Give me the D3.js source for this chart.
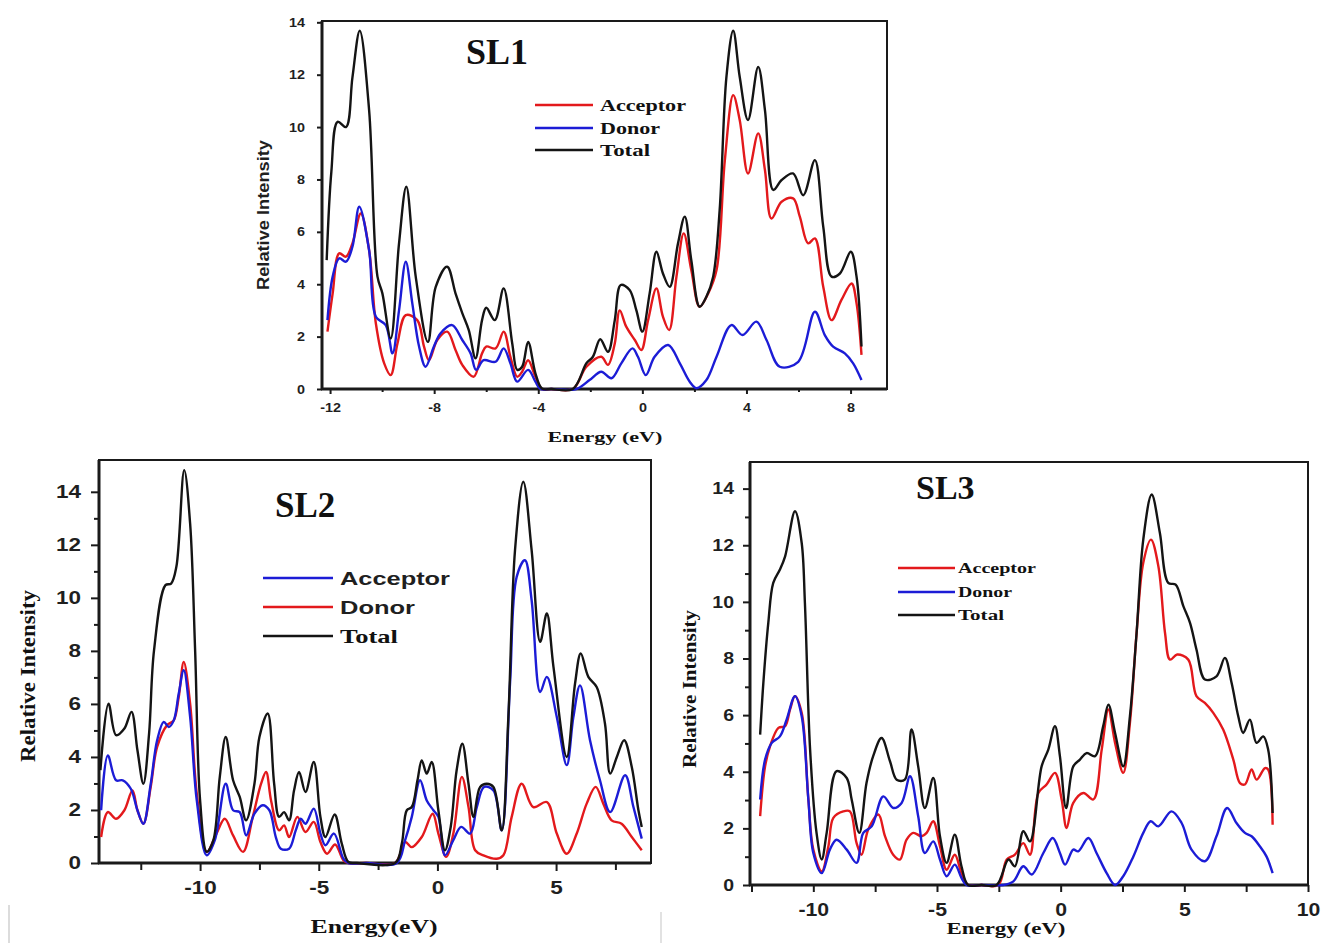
<!DOCTYPE html>
<html>
<head>
<meta charset="utf-8">
<title>PDOS SL1 SL2 SL3</title>
<style>
    body { margin: 0; background: #fff; }
    svg { display: block; }
    .domain { display: none; }
    .tick line { stroke: #1a1a1a; stroke-width: 2; }
    .tick text { font-family: 'Liberation Sans', Arial, sans-serif; font-weight: bold; fill: #1f1f1f; }
    .serif { font-family: 'Liberation Serif', 'Times New Roman', serif; font-weight: bold; fill: #111; }
    .sans { font-family: 'Liberation Sans', Arial, sans-serif; font-weight: bold; fill: #1f1f1f; }
</style>
</head>
<body>
<svg width="1322" height="943"></svg>
<script src="https://d3js.org/d3.v7.min.js"></script>
<script>

// ---- data: [energy (eV), relative intensity] ----

let sl1Acceptor = [[-12.1,2.19],[-11.9,3.65],[-11.65,5.18],[-11.39,5.05],[-11.14,5.56],[-10.82,6.7],[-10.5,5.3],[-10.24,2.5],[-9.92,0.98],[-9.67,0.53],[-9.41,1.74],[-9.09,2.82],[-8.65,2.63],[-8.39,1.62],[-8.2,1.1],[-7.88,1.87],[-7.5,2.19],[-7.18,1.49],[-6.92,0.92],[-6.48,0.47],[-6.16,1.36],[-6.0,1.62],[-5.64,1.55],[-5.33,2.19],[-5.07,1.23],[-4.81,0.47],[-4.62,0.66],[-4.39,1.1],[-4.11,0.47],[-3.86,0],[-3.5,0],[-2.67,0],[-2.15,0.85],[-1.58,1.23],[-1.32,0.92],[-1.06,1.74],[-0.87,3.0],[-0.62,2.38],[-0.29,1.87],[-0.04,1.49],[0.22,2.63],[0.54,3.84],[0.79,2.76],[1.03,2.25],[1.31,4.29],[1.59,5.94],[1.88,4.54],[2.2,3.14],[2.53,3.65],[2.85,4.54],[3.17,8.74],[3.49,11.22],[3.74,10.27],[4.06,8.23],[4.45,9.76],[4.71,8.36],[4.96,6.51],[5.35,7.15],[5.79,7.28],[6.05,6.58],[6.37,5.56],[6.63,5.75],[6.95,3.9],[7.27,2.63],[7.65,3.4],[8.04,4.03],[8.23,3.27],[8.42,1.3]];

let sl1Donor = [[-12.1,2.63],[-11.9,4.29],[-11.65,4.99],[-11.39,4.86],[-11.14,5.43],[-10.88,6.96],[-10.5,5.3],[-10.24,2.76],[-9.86,2.44],[-9.6,1.36],[-9.35,3.0],[-9.09,4.86],[-8.84,3.27],[-8.58,1.62],[-8.33,0.85],[-8.01,1.62],[-7.76,2.12],[-7.31,2.44],[-6.92,1.87],[-6.6,1.36],[-6.39,0.73],[-6.1,1.1],[-5.64,1.04],[-5.33,1.55],[-5.07,0.98],[-4.81,0.28],[-4.39,0.73],[-4.11,0.28],[-3.92,0],[-3.5,0],[-2.54,0],[-2.03,0.34],[-1.58,0.66],[-1.19,0.41],[-0.81,0.98],[-0.38,1.55],[-0.17,1.23],[0.13,0.53],[0.47,1.23],[0.99,1.68],[1.44,0.98],[1.82,0.28],[2.08,0.03],[2.46,0.34],[2.85,1.23],[3.42,2.44],[3.85,2.06],[4.38,2.57],[4.77,1.87],[5.28,0.85],[5.99,1.04],[6.63,2.95],[7.01,2.06],[7.33,1.62],[7.78,1.36],[8.1,0.98],[8.42,0.34]];

let sl1Total = [[-12.13,4.92],[-11.95,8.3],[-11.71,10.2],[-11.39,10.0],[-11.14,11.9],[-10.86,13.68],[-10.5,10.65],[-10.18,4.3],[-9.99,3.65],[-9.67,1.93],[-9.35,5.56],[-9.07,7.72],[-8.71,4.3],[-8.24,1.8],[-7.94,3.9],[-7.5,4.67],[-7.18,3.65],[-6.92,2.9],[-6.67,2.25],[-6.41,1.17],[-6.16,2.63],[-6.0,3.1],[-5.67,2.63],[-5.33,3.84],[-5.0,1.74],[-4.81,0.73],[-4.62,0.85],[-4.39,1.8],[-4.11,0.6],[-3.86,0.02],[-3.5,0],[-2.67,0],[-2.15,0.98],[-1.9,1.23],[-1.62,1.9],[-1.32,1.42],[-1.06,2.63],[-0.83,3.97],[-0.49,3.78],[-0.23,3.0],[0.0,2.19],[0.28,3.65],[0.54,5.24],[0.79,4.41],[1.05,3.9],[1.37,5.56],[1.63,6.58],[1.88,4.92],[2.2,3.14],[2.46,3.52],[2.72,4.29],[2.97,6.83],[3.23,11.92],[3.49,13.68],[3.74,11.92],[4.06,10.27],[4.45,12.3],[4.71,10.65],[5.03,7.6],[5.35,7.98],[5.79,8.23],[6.18,7.4],[6.63,8.74],[6.95,6.2],[7.27,4.29],[7.59,4.41],[8.01,5.24],[8.23,4.29],[8.42,1.62]];

let sl2Acceptor = [[-14.17,1.99],[-13.89,4.06],[-13.54,3.12],[-13.26,3.12],[-12.92,2.8],[-12.64,1.99],[-12.39,1.48],[-12.08,2.99],[-11.81,4.63],[-11.53,5.32],[-11.32,5.13],[-11.11,5.38],[-10.9,6.39],[-10.69,7.27],[-10.42,5.51],[-10.14,2.36],[-9.72,0.29],[-9.38,0.86],[-8.92,2.99],[-8.61,1.99],[-8.33,1.92],[-8.06,1.04],[-7.71,1.86],[-7.36,2.18],[-7.08,1.99],[-6.81,0.98],[-6.6,0.54],[-6.25,0.54],[-5.97,1.23],[-5.76,1.67],[-5.56,1.48],[-5.21,2.05],[-4.93,1.11],[-4.72,0.67],[-4.36,1.11],[-3.96,0.16],[-3.75,0],[-3.0,0],[-1.71,0],[-1.36,0.86],[-1.08,1.74],[-0.73,3.12],[-0.45,2.36],[-0.17,1.99],[0.04,1.74],[0.32,0.29],[0.67,0.86],[1.0,1.36],[1.38,1.11],[1.66,2.11],[1.97,2.87],[2.36,2.74],[2.71,1.23],[3.06,6.77],[3.34,10.79],[3.69,11.42],[3.97,9.91],[4.33,6.45],[4.61,7.02],[5.03,5.51],[5.45,3.69],[5.73,5.51],[6.01,6.7],[6.43,4.63],[6.85,3.12],[7.28,1.92],[7.91,3.31],[8.26,2.11],[8.61,0.92]];

let sl2Donor = [[-14.17,0.98],[-13.89,1.92],[-13.54,1.67],[-13.19,1.99],[-12.85,2.74],[-12.64,1.99],[-12.39,1.48],[-12.08,2.87],[-11.81,4.38],[-11.39,5.2],[-11.11,5.38],[-10.9,6.26],[-10.69,7.58],[-10.42,6.01],[-10.14,2.62],[-9.72,0.42],[-9.31,1.11],[-8.96,1.67],[-8.61,1.04],[-8.19,0.42],[-7.78,1.74],[-7.43,2.99],[-7.22,3.43],[-7.01,2.36],[-6.67,1.23],[-6.46,1.42],[-6.25,0.98],[-5.9,1.74],[-5.56,1.17],[-5.21,1.55],[-4.93,0.79],[-4.65,0.35],[-4.31,0.7],[-3.96,0.1],[-3.75,0],[-3.0,0],[-1.78,0],[-1.36,0.79],[-1.08,0.6],[-0.66,0.98],[-0.2,1.86],[0.04,1.11],[0.37,0.23],[0.67,1.11],[1.03,3.25],[1.31,2.11],[1.59,0.48],[1.94,0.29],[2.5,0.16],[2.78,0.29],[3.13,1.74],[3.55,2.99],[4.04,2.11],[4.61,2.3],[5.03,1.11],[5.45,0.35],[5.87,1.11],[6.29,2.24],[6.67,2.87],[6.99,2.24],[7.34,1.61],[7.76,1.48],[8.19,0.98],[8.61,0.48]];

let sl2Total = [[-14.2,3.5],[-13.86,6.01],[-13.54,4.82],[-13.19,5.07],[-12.89,5.7],[-12.64,4.25],[-12.39,2.99],[-12.15,4.88],[-11.94,8.03],[-11.46,10.48],[-11.22,10.54],[-11.0,11.17],[-10.67,14.82],[-10.42,12.8],[-10.21,8.03],[-10.0,2.36],[-9.72,0.42],[-9.44,0.86],[-9.17,3.25],[-8.92,4.75],[-8.61,3.12],[-8.33,2.49],[-8.06,1.61],[-7.71,2.99],[-7.5,4.75],[-7.15,5.64],[-6.88,2.99],[-6.67,1.74],[-6.46,1.92],[-6.25,1.61],[-6.04,2.74],[-5.83,3.43],[-5.56,2.68],[-5.21,3.81],[-4.93,1.74],[-4.72,0.98],[-4.33,1.83],[-4.03,0.73],[-3.75,0.04],[-3.4,0],[-1.78,0],[-1.5,0.73],[-1.29,1.99],[-1.08,2.11],[-0.84,3.12],[-0.66,3.87],[-0.45,3.37],[-0.24,3.81],[0.04,1.99],[0.32,0.48],[0.56,1.36],[0.81,3.5],[1.05,4.5],[1.31,2.99],[1.52,1.74],[1.8,2.87],[2.08,2.99],[2.36,2.87],[2.71,1.23],[2.99,5.51],[3.27,11.8],[3.62,14.38],[3.97,11.8],[4.33,8.34],[4.61,9.41],[4.89,7.4],[5.45,4.0],[5.8,6.77],[6.04,7.9],[6.36,7.02],[6.71,6.64],[7.06,5.26],[7.28,3.37],[7.56,4.0],[7.87,4.63],[8.19,3.62],[8.47,1.99],[8.61,1.36]];

let sl3Acceptor = [[-12.15,2.43],[-11.95,4.19],[-11.75,4.9],[-11.41,5.55],[-11.14,5.61],[-10.94,6.2],[-10.74,6.67],[-10.47,6.08],[-10.2,3.02],[-10.0,1.25],[-9.66,0.48],[-9.39,1.37],[-9.19,2.37],[-8.79,2.6],[-8.52,2.6],[-8.25,1.48],[-8.05,1.07],[-7.78,1.96],[-7.37,2.49],[-7.1,1.72],[-6.77,1.07],[-6.5,0.9],[-6.23,1.6],[-5.96,1.84],[-5.62,1.72],[-5.42,1.84],[-5.15,2.25],[-4.88,1.37],[-4.61,0.54],[-4.28,1.07],[-4.01,0.42],[-3.74,0],[-3.2,0],[-2.52,0],[-2.18,0.9],[-1.85,1.07],[-1.51,1.48],[-1.24,1.07],[-0.9,3.25],[-0.57,3.55],[-0.23,3.96],[0.04,3.02],[0.24,2.01],[0.51,2.9],[0.92,3.25],[1.32,3.02],[1.66,4.78],[1.93,6.2],[2.2,5.02],[2.53,3.96],[2.8,5.72],[3.07,8.9],[3.34,11.38],[3.65,12.2],[3.95,11.26],[4.22,8.9],[4.42,7.96],[4.71,8.14],[5.16,7.96],[5.49,6.67],[5.83,6.43],[6.17,6.08],[6.57,5.49],[6.98,4.43],[7.25,3.6],[7.45,3.55],[7.72,4.08],[7.92,3.72],[8.26,4.13],[8.39,4.08],[8.57,2.13]];

let sl3Donor = [[-12.15,3.02],[-11.95,4.43],[-11.68,5.02],[-11.35,5.25],[-11.08,5.84],[-10.74,6.67],[-10.47,5.96],[-10.2,3.02],[-10.0,1.13],[-9.66,0.42],[-9.33,1.25],[-9.06,1.6],[-8.65,1.25],[-8.25,0.78],[-7.98,1.84],[-7.64,2.07],[-7.17,3.13],[-6.77,2.72],[-6.43,2.9],[-6.09,3.84],[-5.76,2.43],[-5.49,1.13],[-5.15,1.54],[-4.88,0.9],[-4.61,0.31],[-4.28,0.72],[-4.01,0.25],[-3.81,0],[-3.2,0],[-2.32,0],[-1.91,0.13],[-1.51,0.66],[-1.17,0.37],[-0.7,1.13],[-0.32,1.66],[-0.03,1.13],[0.18,0.72],[0.51,1.25],[0.71,1.19],[1.12,1.66],[1.45,1.13],[1.86,0.42],[2.2,0],[2.53,0.31],[2.94,1.01],[3.34,1.84],[3.64,2.25],[3.95,2.07],[4.48,2.6],[4.89,2.19],[5.29,1.25],[5.83,0.84],[6.3,1.72],[6.73,2.72],[7.11,2.19],[7.45,1.84],[7.72,1.72],[8.05,1.37],[8.32,1.01],[8.57,0.42]];

let sl3Total = [[-12.15,5.31],[-12.02,7.14],[-11.82,9.26],[-11.62,10.67],[-11.35,11.14],[-11.14,11.61],[-10.74,13.2],[-10.47,12.08],[-10.34,9.96],[-10.13,4.78],[-9.87,1.84],[-9.66,0.9],[-9.46,1.84],[-9.06,4.02],[-8.65,3.78],[-8.45,3.02],[-8.14,1.84],[-7.85,3.6],[-7.58,4.55],[-7.24,5.19],[-6.9,4.37],[-6.63,3.72],[-6.3,3.72],[-6.03,5.49],[-5.76,4.19],[-5.49,2.72],[-5.15,3.78],[-4.88,1.72],[-4.61,0.78],[-4.28,1.78],[-4.01,0.66],[-3.74,0],[-3.2,0],[-2.59,0],[-2.11,0.9],[-1.85,0.66],[-1.51,1.9],[-1.24,1.54],[-0.77,4.19],[-0.5,4.78],[-0.23,5.61],[-0.03,4.55],[0.22,2.72],[0.51,4.19],[0.78,4.43],[1.05,4.66],[1.39,4.55],[1.72,5.61],[1.93,6.37],[2.2,5.37],[2.53,4.19],[2.8,5.96],[3.07,8.9],[3.34,12.2],[3.68,13.79],[4.01,12.44],[4.35,10.67],[4.65,10.61],[4.96,9.85],[5.23,9.26],[5.49,8.32],[5.83,7.26],[6.3,7.37],[6.64,8.02],[6.91,7.14],[7.18,5.96],[7.38,5.37],[7.65,5.84],[7.92,5.02],[8.19,5.25],[8.39,4.78],[8.57,2.54]];

// ---- tick values ----
let yMajorTicks = [0, 2, 4, 6, 8, 10, 12, 14];
let yMinorTicks = [1, 3, 5, 7, 9, 11, 13];
let sl1XMajor = [-12, -8, -4, 0, 4, 8];
let sl1XMinor = [-10, -6, -2, 2, 6];
let sl2XMajor = [-10, -5, 0, 5];
let sl2XMinor = [-12.5, -7.5, -2.5, 2.5, 7.5];
let sl3XMajor = [-10, -5, 0, 5, 10];
let sl3XMinor = [-12.5, -7.5, -2.5, 2.5, 7.5];

let red = '#e3191c';
let blue = '#1c1cd6';
let black = '#141414';

let svg = d3.select('svg');

function stretchText(sel, k) {
    sel.each(function () {
        let w = this.getComputedTextLength();
        d3.select(this).attr('textLength', w * k).attr('lengthAdjust', 'spacingAndGlyphs');
    });
}

let panels = [
    {
        name: 'SL1', left: 322, right: 887, top: 21, bottom: 389,
        xDom: [-12.31, 9.4], yDom: [0, 14.05],
        xMajor: sl1XMajor, xMinor: sl1XMinor,
        xFont: 12.5, yFont: 12.5, tickStretch: 1.15, xPad: 9, yPad: 12, majorLen: 5, minorLen: 3,
        series: [[sl1Acceptor, red], [sl1Donor, blue], [sl1Total, black]],
        title: { x: 466, y: 64, size: 36 },
        legend: { x1: 535, x2: 593, tx: 600, ys: [105, 128, 150], size: 16, cls: ['serif', 'serif', 'serif'],
                  names: ['Acceptor', 'Donor', 'Total'], colors: [red, blue, black], widths: [86, 60, 50] },
        xLabel: { text: 'Energy (eV)', x: 605, y: 442, size: 15, w: 115 },
        yLabel: { x: 269, y: 215, size: 16, w: 150, cls: 'sans' }
    },
    {
        name: 'SL2', left: 99, right: 651, top: 460, bottom: 863,
        xDom: [-14.26, 9.0], yDom: [0, 15.2],
        xMajor: sl2XMajor, xMinor: sl2XMinor,
        xFont: 18, yFont: 18, tickStretch: 1.25, xPad: 10, yPad: 10, majorLen: 8, minorLen: 7,
        series: [[sl2Donor, red], [sl2Acceptor, blue], [sl2Total, black]],
        title: { x: 275, y: 517, size: 35 },
        legend: { x1: 263, x2: 333, tx: 340, ys: [578, 607, 636], size: 19, cls: ['sans', 'sans', 'serif'],
                  names: ['Acceptor', 'Donor', 'Total'], colors: [blue, red, black], widths: [110, 75, 58] },
        xLabel: { text: 'Energy(eV)', x: 374, y: 933, size: 19, w: 127 },
        yLabel: { x: 35, y: 676, size: 20, w: 172, cls: 'serif' }
    },
    {
        name: 'SL3', left: 750, right: 1308, top: 462, bottom: 885,
        xDom: [-12.56, 10], yDom: [0, 14.94],
        xMajor: sl3XMajor, xMinor: sl3XMinor,
        xFont: 18, yFont: 16.5, tickStretch: 1.18, xPad: 11, yPad: 9, majorLen: 7, minorLen: 7,
        series: [[sl3Acceptor, red], [sl3Donor, blue], [sl3Total, black]],
        title: { x: 916, y: 499, size: 34 },
        legend: { x1: 898, x2: 955, tx: 958, ys: [568, 592, 615], size: 15, cls: ['serif', 'serif', 'serif'],
                  names: ['Acceptor', 'Donor', 'Total'], colors: [red, blue, black], widths: [78, 54, 46] },
        xLabel: { text: 'Energy (eV)', x: 1006, y: 934, size: 17, w: 119 },
        yLabel: { x: 696, y: 689, size: 18, w: 158, cls: 'serif' }
    }
];

panels.forEach(p => {
    let g = svg.append('g').attr('class', 'panel ' + p.name);

    let x = d3.scaleLinear().domain(p.xDom).range([p.left, p.right]);
    let y = d3.scaleLinear().domain(p.yDom).range([p.bottom, p.top]);

    // frame
    g.append('rect')
        .attr('x', p.left).attr('y', p.top)
        .attr('width', p.right - p.left).attr('height', p.bottom - p.top)
        .attr('fill', 'none').attr('stroke', '#1a1a1a').attr('stroke-width', 2);

    // minor ticks
    g.append('g')
        .attr('transform', `translate(0,${p.bottom})`)
        .call(d3.axisBottom(x).tickValues(p.xMinor).tickSize(p.minorLen).tickFormat(''));
    g.append('g')
        .attr('transform', `translate(${p.left},0)`)
        .call(d3.axisLeft(y).tickValues(yMinorTicks).tickSize(p.minorLen - 2).tickFormat(''));

    // major ticks + labels
    let xAxis = g.append('g')
        .attr('class', 'x axis')
        .attr('transform', `translate(0,${p.bottom})`)
        .call(d3.axisBottom(x).tickValues(p.xMajor).tickSize(p.majorLen).tickPadding(p.xPad));
    let yAxis = g.append('g')
        .attr('class', 'y axis')
        .attr('transform', `translate(${p.left},0)`)
        .call(d3.axisLeft(y).tickValues(yMajorTicks).tickSize(p.majorLen).tickPadding(p.yPad));

    xAxis.selectAll('text').attr('font-size', p.xFont).text(d => d < 0 ? '-' + Math.abs(d) : d);
    yAxis.selectAll('text').attr('font-size', p.yFont);
    stretchText(xAxis.selectAll('text'), p.tickStretch);
    stretchText(yAxis.selectAll('text'), p.tickStretch);

    // thick left and bottom axes
    g.append('line').attr('x1', p.left).attr('x2', p.left).attr('y1', p.top).attr('y2', p.bottom + 1)
        .attr('stroke', '#1a1a1a').attr('stroke-width', 3);
    g.append('line').attr('x1', p.left - 1).attr('x2', p.right).attr('y1', p.bottom).attr('y2', p.bottom)
        .attr('stroke', '#1a1a1a').attr('stroke-width', 3);

    // curves
    let line = d3.line()
        .x(d => x(d[0]))
        .y(d => Math.min(y(d[1]), p.bottom))
        .curve(d3.curveCatmullRom.alpha(0.5));

    g.selectAll('path.curve')
        .data(p.series)
        .join('path')
        .attr('class', 'curve')
        .attr('d', d => line(d[0]))
        .attr('fill', 'none')
        .attr('stroke', d => d[1])
        .attr('stroke-width', 2.4)
        .attr('stroke-linejoin', 'round');

    // title
    g.append('text')
        .attr('class', 'serif')
        .attr('x', p.title.x).attr('y', p.title.y)
        .attr('font-size', p.title.size)
        .text(p.name);

    // legend
    p.legend.names.forEach((n, i) => {
        let ly = p.legend.ys[i];
        g.append('line')
            .attr('x1', p.legend.x1).attr('x2', p.legend.x2)
            .attr('y1', ly).attr('y2', ly)
            .attr('stroke', p.legend.colors[i]).attr('stroke-width', 2.4);
        g.append('text')
            .attr('class', p.legend.cls[i])
            .attr('x', p.legend.tx).attr('y', ly)
            .attr('dy', '0.35em')
            .attr('font-size', p.legend.size)
            .attr('textLength', p.legend.widths[i])
            .attr('lengthAdjust', 'spacingAndGlyphs')
            .text(n);
    });

    // axis labels
    g.append('text')
        .attr('class', 'serif')
        .attr('x', p.xLabel.x).attr('y', p.xLabel.y)
        .attr('text-anchor', 'middle')
        .attr('font-size', p.xLabel.size)
        .attr('textLength', p.xLabel.w)
        .attr('lengthAdjust', 'spacingAndGlyphs')
        .text(p.xLabel.text);

    g.append('text')
        .attr('class', p.yLabel.cls)
        .attr('transform', `translate(${p.yLabel.x},${p.yLabel.y}) rotate(-90)`)
        .attr('text-anchor', 'middle')
        .attr('font-size', p.yLabel.size)
        .attr('textLength', p.yLabel.w)
        .attr('lengthAdjust', 'spacingAndGlyphs')
        .text('Relative Intensity');
});

// faint scan edges left in the original figure
svg.append('line').attr('x1', 9).attr('x2', 9).attr('y1', 905).attr('y2', 943)
    .attr('stroke', '#dcdcdc').attr('stroke-width', 2);
svg.append('line').attr('x1', 661).attr('x2', 661).attr('y1', 912).attr('y2', 943)
    .attr('stroke', '#e2e2e2').attr('stroke-width', 2);

</script>
</body>
</html>
